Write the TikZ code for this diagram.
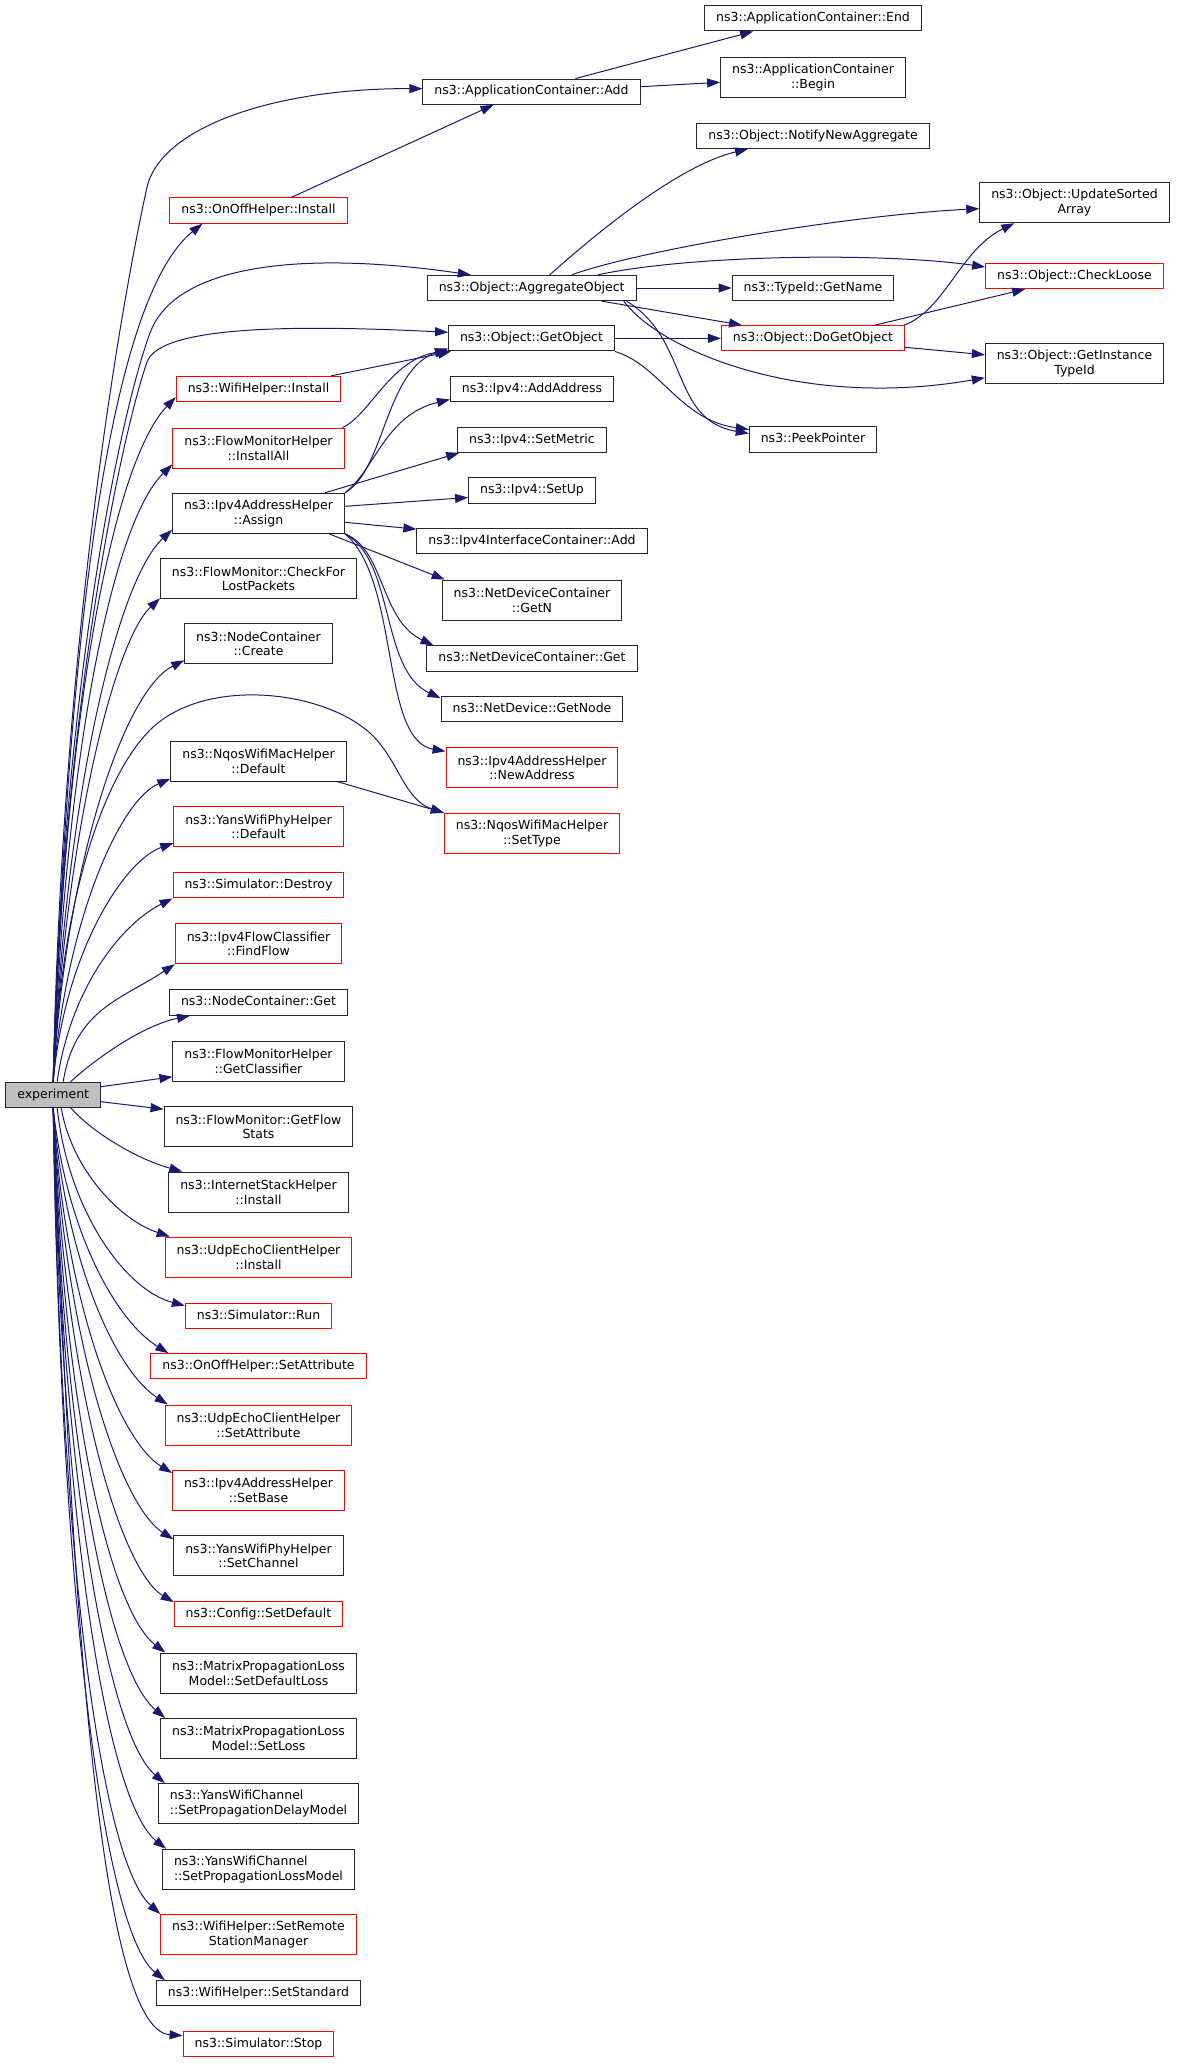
\documentclass[tikz,border=0pt]{standalone}
\usepackage{fontspec}
\setmainfont{DejaVu Sans}
\usetikzlibrary{arrows.meta}
\definecolor{edgeblue}{RGB}{25,25,112}
\definecolor{expgrey}{RGB}{191,191,191}
\tikzset{
  fnbox/.style={draw=black!85, line width=1pt, font=\fontsize{12.5}{14.7}\selectfont,
    inner xsep=11.5pt, inner ysep=0pt, minimum height=25.3pt, text height=9.5pt, text depth=2.9pt},
  fnred/.style={fnbox, draw=red},
  twoline/.style={align=center, minimum height=40pt, text height={}, text depth={}},
  call/.style={draw=edgeblue, line width=1pt, -{Triangle[length=13pt,width=9pt]}}
}
\begin{document}
\begin{tikzpicture}[x=1pt,y=-1pt]
\useasboundingbox (0,0) rectangle (1176,2063);
% the caller
\node[fnbox, fill=expgrey] (exp) at (53.2,1094.7) {experiment};
% first column
\node[fnred] (onoffInst) at (258.5,210.5) {ns3::OnOffHelper::Install};
\node[fnred] (wifiInst) at (258.5,389) {ns3::WifiHelper::Install};
\node[fnred, twoline] (fmInstAll) at (258.5,448) {ns3::FlowMonitorHelper\\::InstallAll};
\node[fnbox, twoline] (assign) at (258.5,513.3) {ns3::Ipv4AddressHelper\\::Assign};
\node[fnbox, twoline] (lostPk) at (258.5,578.8) {ns3::FlowMonitor::CheckFor\\LostPackets};
\node[fnbox, twoline] (create) at (258.5,643.8) {ns3::NodeContainer\\::Create};
\node[fnbox, twoline] (macDef) at (258.5,761.2) {ns3::NqosWifiMacHelper\\::Default};
\node[fnred, twoline] (phyDef) at (258.5,826.7) {ns3::YansWifiPhyHelper\\::Default};
\node[fnred] (destroy) at (258.5,885.2) {ns3::Simulator::Destroy};
\node[fnred, twoline] (findFlow) at (258.5,943.8) {ns3::Ipv4FlowClassifier\\::FindFlow};
\node[fnbox] (ncGet) at (258.5,1002.5) {ns3::NodeContainer::Get};
\node[fnbox, twoline] (classif) at (258.5,1061.3) {ns3::FlowMonitorHelper\\::GetClassifier};
\node[fnbox, twoline] (flowStats) at (258.5,1126.7) {ns3::FlowMonitor::GetFlow\\Stats};
\node[fnbox, twoline] (stack) at (258.5,1192) {ns3::InternetStackHelper\\::Install};
\node[fnred, twoline] (udpInst) at (258.5,1257) {ns3::UdpEchoClientHelper\\::Install};
\node[fnred] (run) at (258.5,1315.8) {ns3::Simulator::Run};
\node[fnred] (onoffAttr) at (258.5,1366.3) {ns3::OnOffHelper::SetAttribute};
\node[fnred, twoline] (udpAttr) at (258.5,1425) {ns3::UdpEchoClientHelper\\::SetAttribute};
\node[fnred, twoline] (setBase) at (258.5,1490.5) {ns3::Ipv4AddressHelper\\::SetBase};
\node[fnbox, twoline] (setChan) at (258.5,1555.8) {ns3::YansWifiPhyHelper\\::SetChannel};
\node[fnred] (cfgDef) at (258.5,1614.3) {ns3::Config::SetDefault};
\node[fnbox, twoline] (defLoss) at (258.5,1673) {ns3::MatrixPropagationLoss\\Model::SetDefaultLoss};
\node[fnbox, twoline] (setLoss) at (258.5,1738.5) {ns3::MatrixPropagationLoss\\Model::SetLoss};
\node[fnbox, twoline, align=left] (delayMdl) at (258.5,1803.7) {ns3::YansWifiChannel\\::SetPropagationDelayModel};
\node[fnbox, twoline, align=left] (lossMdl) at (258.5,1869.3) {ns3::YansWifiChannel\\::SetPropagationLossModel};
\node[fnred, twoline] (remote) at (258.5,1934.5) {ns3::WifiHelper::SetRemote\\StationManager};
\node[fnbox] (standard) at (258.5,1993.3) {ns3::WifiHelper::SetStandard};
\node[fnred] (stop) at (258.5,2043.7) {ns3::Simulator::Stop};
% second column
\node[fnbox] (appAdd) at (531.5,91.7) {ns3::ApplicationContainer::Add};
\node[fnbox] (aggr) at (531.7,288) {ns3::Object::AggregateObject};
\node[fnbox] (getObj) at (531.5,338.3) {ns3::Object::GetObject};
\node[fnbox] (addAddr) at (532,389.3) {ns3::Ipv4::AddAddress};
\node[fnbox] (setMetric) at (532,439.7) {ns3::Ipv4::SetMetric};
\node[fnbox] (setUp) at (532,490.5) {ns3::Ipv4::SetUp};
\node[fnbox] (ifAdd) at (532,541.3) {ns3::Ipv4InterfaceContainer::Add};
\node[fnbox, twoline] (getN) at (532,600) {ns3::NetDeviceContainer\\::GetN};
\node[fnbox] (ndcGet) at (532,658.5) {ns3::NetDeviceContainer::Get};
\node[fnbox] (getNode) at (532,709.3) {ns3::NetDevice::GetNode};
\node[fnred, twoline] (newAddr) at (532,767.8) {ns3::Ipv4AddressHelper\\::NewAddress};
\node[fnred, twoline] (setType) at (532,833.3) {ns3::NqosWifiMacHelper\\::SetType};
% third column
\node[fnbox] (appEnd) at (813,18.3) {ns3::ApplicationContainer::End};
\node[fnbox, twoline] (appBegin) at (813,77.3) {ns3::ApplicationContainer\\::Begin};
\node[fnbox] (notify) at (813,135.8) {ns3::Object::NotifyNewAggregate};
\node[fnbox] (getName) at (813,288) {ns3::TypeId::GetName};
\node[fnred] (doGet) at (813,338.3) {ns3::Object::DoGetObject};
\node[fnbox] (peek) at (813,439.5) {ns3::PeekPointer};
% fourth column
\node[fnbox, twoline] (sorted) at (1074.5,202.7) {ns3::Object::UpdateSorted\\Array};
\node[fnred] (loose) at (1074.5,276) {ns3::Object::CheckLoose};
\node[fnbox, twoline] (instTid) at (1074.5,363.8) {ns3::Object::GetInstance\\TypeId};

% calls made by experiment, upwards
\draw[call] (exp.north) .. controls (62,650) and (118,320) .. (147,187) .. controls (162,125) and (280,88) .. ([yshift=3pt]appAdd.west);
\draw[call] (exp.north) .. controls (70,560) and (120,290) .. ([xshift=33pt]onoffInst.south west);
\draw[call] (exp.north) .. controls (62,700) and (118,420) .. (150,333) .. controls (175,265) and (300,250) .. ([xshift=44pt]aggr.north west);
\draw[call] (exp.north) .. controls (62,720) and (120,440) .. (147,362) .. controls (160,325) and (300,325) .. ([yshift=6pt]getObj.west);
\draw[call] (exp.north) .. controls (65,700) and (115,460) .. ([yshift=5pt]wifiInst.south west);
\draw[call] (exp.north) .. controls (66,740) and (115,520) .. ([yshift=4pt]fmInstAll.south west);
\draw[call] (exp.north) .. controls (66,790) and (118,580) .. ([yshift=4pt]assign.south west);
\draw[call] (exp.north) .. controls (66,830) and (115,640) .. ([yshift=1pt]lostPk.south west);
\draw[call] (exp.north) .. controls (66,860) and (125,690) .. ([yshift=4pt]create.south west);
\draw[call] (exp.north) .. controls (62,880) and (110,770) .. (150,730) .. controls (205,675) and (330,690) .. (375,738) .. controls (400,765) and (405,800) .. (setType.north west);
\draw[call] (exp.north) .. controls (66,920) and (120,800) .. ([yshift=3pt]macDef.south west);
\draw[call] (exp.north) .. controls (65,950) and (125,860) .. ([yshift=4pt]phyDef.south west);
\draw[call] ([xshift=4pt]exp.north) .. controls (70,990) and (120,925) .. (destroy.south west);
\draw[call] ([xshift=10pt]exp.north) .. controls (75,1010) and (120,1000) .. (findFlow.south west);
\draw[call] ([xshift=17.6pt]exp.north) .. controls (100,1055) and (145,1025) .. ([xshift=21pt]ncGet.south west);
\draw[call] ([yshift=8pt]exp.east) -- ([yshift=5pt]classif.south west);
\draw[call] ([yshift=-7pt]exp.east) -- ([yshift=-3pt]flowStats.north west);
% calls made by experiment, downwards
\draw[call] ([xshift=17.6pt]exp.south) .. controls (95,1135) and (140,1160) .. ([xshift=14pt]stack.north west);
\draw[call] ([xshift=8pt]exp.south) .. controls (72,1170) and (120,1220) .. ([xshift=5pt]udpInst.north west);
\draw[call] ([xshift=4pt]exp.south) .. controls (68,1210) and (125,1290) .. ([yshift=-3pt]run.north west);
\draw[call] (exp.south) .. controls (66,1230) and (115,1320) .. ([xshift=18pt]onoffAttr.north west);
\draw[call] (exp.south) .. controls (65,1260) and (115,1370) .. ([xshift=3pt]udpAttr.north west);
\draw[call] (exp.south) .. controls (64,1300) and (118,1440) .. ([yshift=-3pt]setBase.north west);
\draw[call] (exp.south) .. controls (64,1340) and (120,1505) .. ([yshift=-4pt]setChan.north west);
\draw[call] (exp.south) .. controls (63,1380) and (120,1570) .. ([yshift=-1pt]cfgDef.north west);
\draw[call] (exp.south) .. controls (63,1410) and (110,1610) .. ([xshift=5pt]defLoss.north west);
\draw[call] (exp.south) .. controls (62,1440) and (108,1670) .. ([xshift=5pt]setLoss.north west);
\draw[call] (exp.south) .. controls (62,1480) and (108,1735) .. ([xshift=7pt]delayMdl.north west);
\draw[call] (exp.south) .. controls (61,1510) and (105,1800) .. ([xshift=4pt]lossMdl.north west);
\draw[call] (exp.south) .. controls (60,1550) and (100,1860) .. (remote.north west);
\draw[call] (exp.south) .. controls (60,1580) and (102,1930) .. ([xshift=9pt]standard.north west);
\draw[call] (exp.south) .. controls (70,1550) and (95,2030) .. ([yshift=-5pt]stop.north west);

% second level calls
\draw[call] ([xshift=33pt]onoffInst.north) -- ([xshift=-38pt]appAdd.south);
\draw[call] ([xshift=44pt]appAdd.north) -- ([xshift=49pt]appEnd.south west);
\draw[call] ([yshift=5pt]appAdd.east) -- ([yshift=-5pt]appBegin.west);
\draw[call] ([xshift=18pt]aggr.north) .. controls (600,230) and (680,165) .. ([xshift=-65pt]notify.south);
\draw[call] ([xshift=40pt]aggr.north) .. controls (640,250) and (850,215) .. ([yshift=-6pt]sorted.west);
\draw[call] ([xshift=66pt]aggr.north) .. controls (690,255) and (880,252) .. ([yshift=9pt]loose.west);
\draw[call] (aggr.east) -- (getName.west);
\draw[call] ([xshift=70pt]aggr.south) -- ([xshift=-71pt]doGet.north);
\draw[call] ([xshift=92pt]aggr.south) .. controls (660,350) and (800,410) .. ([yshift=-14pt]instTid.west);
\draw[call] ([xshift=95pt]aggr.south) .. controls (690,340) and (670,420) .. ([yshift=6pt]peek.west);
\draw[call] (getObj.south east) .. controls (660,365) and (680,420) .. ([yshift=10pt]peek.west);
\draw[call] (getObj.east) -- (doGet.west);
\draw[call] ([xshift=-1pt]doGet.north east) .. controls (945,310) and (960,250) .. ([xshift=35pt]sorted.south west);
\draw[call] ([xshift=62pt]doGet.north) -- ([xshift=40pt]loose.south west);
\draw[call] ([yshift=-9pt]doGet.east) -- ([yshift=9pt]instTid.west);
\draw[call] ([xshift=-10pt]wifiInst.north east) -- ([xshift=3pt]getObj.south west);
\draw[call] ([xshift=-2pt]fmInstAll.north east) .. controls (370,415) and (390,360) .. ([yshift=1pt]getObj.south west);
\draw[call] (assign.north east) .. controls (385,470) and (385,370) .. ([yshift=3pt]getObj.south west);
\draw[call] (assign.north east) .. controls (375,470) and (385,415) .. ([yshift=3pt]addAddr.south west);
\draw[call] ([xshift=-20pt]assign.north east) -- ([xshift=2pt]setMetric.south west);
\draw[call] ([yshift=7pt]assign.east) -- ([yshift=-7pt]setUp.west);
\draw[call] ([yshift=-9pt]assign.east) -- ([yshift=-1pt]ifAdd.north west);
\draw[call] ([xshift=-16pt]assign.south east) -- ([xshift=3pt]getN.north west);
\draw[call] (assign.south east) .. controls (385,550) and (380,620) .. ([xshift=7pt]ndcGet.north west);
\draw[call] (assign.south east) .. controls (395,560) and (380,670) .. ([yshift=-2pt]getNode.north west);
\draw[call] (assign.south east) .. controls (400,580) and (380,740) .. ([yshift=-4pt]newAddr.north west);
\draw[call] ([xshift=-9pt]macDef.south east) -- (setType.north west);
\end{tikzpicture}
\end{document}
